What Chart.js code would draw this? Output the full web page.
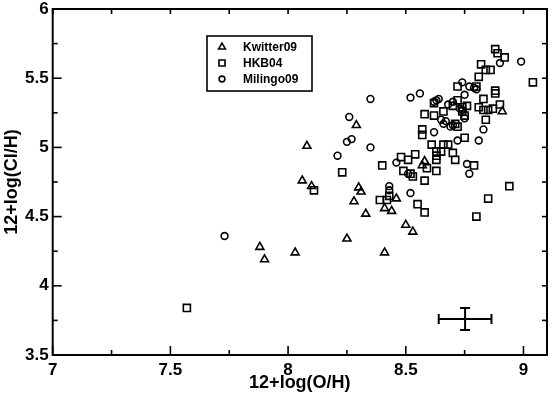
<!DOCTYPE html>
<html><head><meta charset="utf-8">
<script src="https://cdn.jsdelivr.net/npm/chart.js@4/dist/chart.umd.min.js"></script>
<style>html,body{margin:0;padding:0;background:#fff;}#wrap{width:554px;height:399px;position:relative;}</style>
</head><body><div id="wrap"><canvas id="c" width="554" height="399"></canvas></div>
<script>
const seriesNames = ['Kwitter09', 'HKB04', 'Milingo09'];

const kwitterX = [7.88,7.90,8.03,8.08,8.06,8.10,8.25,8.29,8.28,8.30,8.31,8.33,8.41,8.41,8.46,8.44,8.50,8.53,8.57,8.58,8.91];
const kwitterY = [4.28,4.19,4.24,5.01,4.76,4.72,4.34,5.16,4.61,4.71,4.68,4.52,4.24,4.56,4.63,4.54,4.44,4.39,4.87,4.90,5.26];

const hkbX = [7.57,8.11,8.23,8.39,8.42,8.43,8.40,8.48,8.51,8.54,8.49,8.52,8.53,8.59,8.58,8.55,8.58,8.63,8.63,8.65,8.63,8.70,8.71,8.79,8.85,8.80,8.94,9.04,8.88,8.89,8.92,8.82,8.84,8.86,8.81,8.72,8.80,8.88,8.88,8.83,8.90,8.81,8.85,8.87,8.84,8.58,8.62,8.66,8.70,8.72,8.74,8.76,8.74,8.75,8.57,8.57,8.71,8.72,8.61,8.66,8.68,8.75,8.63,8.62,8.83];
const hkbY = [3.84,4.69,4.82,4.62,4.62,4.65,4.87,4.93,4.91,4.95,4.83,4.81,4.79,4.85,4.76,4.59,4.53,4.91,4.97,4.97,4.83,4.96,4.91,4.87,4.63,4.50,4.72,5.47,5.71,5.68,5.65,5.60,5.56,5.56,5.51,5.44,5.44,5.41,5.39,5.35,5.31,5.29,5.27,5.28,5.20,5.24,5.23,5.26,5.30,5.34,5.29,5.30,5.26,5.23,5.13,5.09,5.17,5.15,5.02,5.02,5.02,5.07,4.94,5.32,5.27];

const milingoX = [7.73,8.21,8.26,8.25,8.27,8.35,8.35,8.46,8.43,8.43,8.52,8.51,8.52,8.56,8.62,8.63,8.64,8.68,8.62,8.65,8.67,8.66,8.70,8.69,8.73,8.74,8.75,8.74,8.77,8.79,8.80,8.75,8.72,8.81,8.83,8.76,8.77,8.90,8.99,8.70];
const milingoY = [4.36,4.94,5.22,5.04,5.06,5.35,5.00,4.89,4.72,4.69,4.67,4.81,5.36,5.39,5.33,5.34,5.35,5.31,5.11,5.20,5.19,5.17,5.16,5.15,5.28,5.27,5.21,5.47,5.44,5.43,5.42,5.38,5.05,5.05,5.13,4.88,4.81,5.61,5.62,5.33];

const errCenterX = 8.752, errCenterY = 3.76, errHalfX = 0.112, errHalfY = 0.08;

const xTicks = [7, 7.5, 8, 8.5, 9];
const yTicks = [3.5, 4, 4.5, 5, 5.5, 6];
const xMinorTicks = [7.25, 7.75, 8.25, 8.75];
const yMinorTicks = [3.75, 4.25, 4.75, 5.25, 5.75];

const pts = (xs, ys) => xs.map((v, i) => ({x: v, y: ys[i]}));
const FONT = '"Liberation Sans", Arial, sans-serif';
const markerStyles = [
  {pointStyle: 'triangle', radius: 4.6},
  {pointStyle: 'rect', radius: 5},
  {pointStyle: 'circle', radius: 3.4}
];
const markerBW = 1.6;

function drawMarker(ctx, style, x, y, r) {
  ctx.beginPath();
  if (style === 'triangle') {
    const w = r * 0.866;
    ctx.moveTo(x, y - r); ctx.lineTo(x + w, y + r / 2); ctx.lineTo(x - w, y + r / 2); ctx.closePath();
  } else if (style === 'rect') {
    const s = r * Math.SQRT1_2;
    ctx.rect(x - s, y - s, 2 * s, 2 * s);
  } else {
    ctx.arc(x, y, r, 0, Math.PI * 2);
  }
  ctx.stroke();
}

const framePlugin = {
  id: 'frame',
  afterDraw(chart) {
    const {ctx, chartArea: a, scales: {x, y}} = chart;
    ctx.save();
    ctx.strokeStyle = '#000';
    ctx.lineWidth = 1.6;
    const tick = (x1, y1, x2, y2) => { ctx.beginPath(); ctx.moveTo(x1, y1); ctx.lineTo(x2, y2); ctx.stroke(); };
    xTicks.forEach(v => { const p = x.getPixelForValue(v); tick(p, a.bottom, p, a.bottom - 9); tick(p, a.top, p, a.top + 5); });
    xMinorTicks.forEach(v => { const p = x.getPixelForValue(v); tick(p, a.bottom, p, a.bottom - 5); tick(p, a.top, p, a.top + 5); });
    yTicks.forEach(v => { const p = y.getPixelForValue(v); tick(a.left, p, a.left + 9, p); tick(a.right, p, a.right - 5, p); });
    yMinorTicks.forEach(v => { const p = y.getPixelForValue(v); tick(a.left, p, a.left + 5, p); tick(a.right, p, a.right - 5, p); });
    ctx.lineWidth = 2;
    ctx.strokeRect(a.left, a.top, a.right - a.left, a.bottom - a.top);

    // legend
    const lg = {left: 207, top: 36, width: 105, height: 55, rows: [47, 63, 79], markerX: 222, textX: 243};
    ctx.lineWidth = 1.6;
    ctx.strokeRect(lg.left, lg.top, lg.width, lg.height);
    ctx.fillStyle = '#000';
    ctx.font = 'bold 12px ' + FONT;
    ctx.textBaseline = 'middle';
    ctx.textAlign = 'left';
    seriesNames.forEach((n, i) => {
      ctx.lineWidth = markerBW;
      drawMarker(ctx, markerStyles[i].pointStyle, lg.markerX, lg.rows[i], markerStyles[i].radius * 0.85);
      ctx.fillText(n, lg.textX, lg.rows[i] + 0.5);
    });
    ctx.restore();
  }
};

const scatterDS = (label, data, i) => ({
  label, data,
  pointStyle: markerStyles[i].pointStyle,
  pointRadius: markerStyles[i].radius,
  pointBorderWidth: markerBW,
  pointBorderColor: '#000',
  pointBackgroundColor: 'rgba(0,0,0,0)',
  showLine: false
});

const errDS = (data, rot) => ({
  label: 'err', data, showLine: true,
  borderColor: '#000', borderWidth: 2,
  pointStyle: 'line', pointRotation: rot, pointRadius: 5,
  pointBorderWidth: 2, pointBorderColor: '#000'
});

new Chart(document.getElementById('c'), {
  type: 'scatter',
  data: {
    datasets: [
      scatterDS(seriesNames[0], pts(kwitterX, kwitterY), 0),
      scatterDS(seriesNames[1], pts(hkbX, hkbY), 1),
      scatterDS(seriesNames[2], pts(milingoX, milingoY), 2),
      errDS([{x: errCenterX - errHalfX, y: errCenterY}, {x: errCenterX + errHalfX, y: errCenterY}], 90),
      errDS([{x: errCenterX, y: errCenterY - errHalfY}, {x: errCenterX, y: errCenterY + errHalfY}], 0)
    ]
  },
  options: {
    responsive: false,
    animation: false,
    events: [],
    devicePixelRatio: 1,
    layout: {padding: {top: 9, right: 2, left: 0, bottom: 0}},
    plugins: {legend: {display: false}, tooltip: {enabled: false}},
    scales: {
      x: {
        type: 'linear', min: 7, max: 9.1,
        afterBuildTicks: s => { s.ticks = xTicks.map(v => ({value: v})); },
        afterFit: s => { s.height = 44; s.paddingLeft = 0; s.paddingRight = 0; },
        grid: {display: false, drawTicks: false},
        border: {display: false},
        ticks: {autoSkip: false, maxRotation: 0, padding: 5, color: '#000', font: {family: FONT, weight: 'bold', size: 17}, callback: v => String(v)},
        title: {display: true, text: '12+log(O/H)', color: '#000', font: {family: FONT, weight: 'bold', size: 18}, padding: {top: 0, bottom: 5}}
      },
      y: {
        type: 'linear', min: 3.5, max: 6,
        afterBuildTicks: s => { s.ticks = yTicks.map(v => ({value: v})); },
        afterFit: s => { s.width = 52.7; s.paddingTop = 0; s.paddingBottom = 0; },
        grid: {display: false, drawTicks: false},
        border: {display: false},
        ticks: {autoSkip: false, padding: 4, color: '#000', font: {family: FONT, weight: 'bold', size: 17}, callback: v => String(v)},
        title: {display: true, text: '12+log(Cl/H)', color: '#000', font: {family: FONT, weight: 'bold', size: 18}, padding: {top: 1, bottom: 0}}
      }
    }
  },
  plugins: [framePlugin]
});
</script></body></html>
